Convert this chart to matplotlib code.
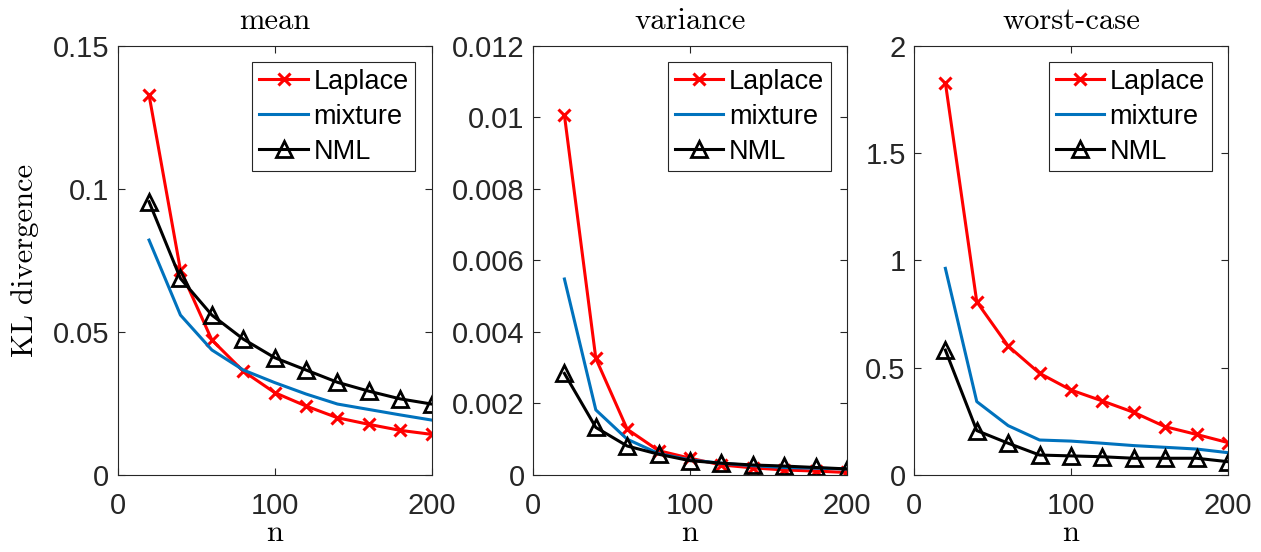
import matplotlib
matplotlib.use("Agg")
import matplotlib.pyplot as plt
from matplotlib.ticker import FuncFormatter

n = [20, 40, 60, 80, 100, 120, 140, 160, 180, 200]

# mean
mean_laplace = [0.1328, 0.0716, 0.0472, 0.0363, 0.0288, 0.0241, 0.0200, 0.0177, 0.0156, 0.0142]
mean_mixture = [0.0821, 0.0559, 0.0437, 0.0367, 0.0323, 0.0283, 0.0248, 0.0229, 0.0210, 0.0192]
mean_nml = [0.0955, 0.0687, 0.0559, 0.0475, 0.0410, 0.0367, 0.0324, 0.0293, 0.0266, 0.0248]

# variance
var_laplace = [0.01006, 0.00326, 0.00128, 0.00068, 0.00047, 0.00028, 0.00020, 0.00014, 0.00011, 0.00007]
var_mixture = [0.00548, 0.00182, 0.00100, 0.00060, 0.00042, 0.00033, 0.00026, 0.00021, 0.00019, 0.00017]
var_nml = [0.00284, 0.00133, 0.00081, 0.00058, 0.00040, 0.00033, 0.00028, 0.00025, 0.00021, 0.00017]

# worst-case
worst_laplace = [1.828, 0.807, 0.601, 0.474, 0.396, 0.345, 0.292, 0.225, 0.189, 0.151]
worst_mixture = [0.963, 0.342, 0.230, 0.163, 0.158, 0.148, 0.137, 0.129, 0.121, 0.104]
worst_nml = [0.582, 0.207, 0.148, 0.093, 0.089, 0.085, 0.078, 0.078, 0.078, 0.062]

titles = ["mean", "variance", "worst-case"]
ylims = [0.15, 0.012, 2]
yticks = [[0, 0.05, 0.1, 0.15],
          [0, 0.002, 0.004, 0.006, 0.008, 0.01, 0.012],
          [0, 0.5, 1, 1.5, 2]]
panels = [(mean_laplace, mean_mixture, mean_nml),
          (var_laplace, var_mixture, var_nml),
          (worst_laplace, worst_mixture, worst_nml)]

RED = (1, 0, 0)
BLUE = (0, 0.447, 0.741)
EDGE = (0.15, 0.15, 0.15)
SERIF = "cmr10"

plt.rcParams['font.family'] = ['Liberation Sans', 'DejaVu Sans']
plt.rcParams['axes.formatter.use_mathtext'] = False

fig = plt.figure(figsize=(12.61, 5.52), dpi=100)
lefts = [0.0933, 0.4227, 0.7248]
width = 0.249
bottom, top = 0.1395, 0.917

for i, (lap, mix, nml) in enumerate(panels):
    ax = fig.add_axes([lefts[i], bottom, width, top - bottom])
    ax.plot(n, lap, '-', color=RED, lw=2.2, marker='x', ms=8, mew=2.2, label='Laplace')
    ax.plot(n, mix, '-', color=BLUE, lw=2.2, label='mixture')
    ax.plot(n, nml, '-', color='black', lw=2.2, marker='^', ms=11, mew=2.0,
            mfc='none', mec='black', label='NML')
    ax.set_xlim(0, 200)
    ax.set_ylim(0, ylims[i])
    ax.set_xticks([0, 100, 200])
    ax.set_yticks(yticks[i])
    ax.yaxis.set_major_formatter(FuncFormatter(lambda v, p: '%g' % v))
    ax.tick_params(direction='in', top=True, right=True, length=5, width=0.8,
                   colors=EDGE, labelcolor='#262626', labelsize=21, pad=6)
    ax.tick_params(axis='x', pad=12)
    for s in ax.spines.values():
        s.set_color(EDGE)
        s.set_linewidth(0.8)
    ax.set_title(titles[i], fontfamily=SERIF, fontsize=22, pad=12)
    ax.set_xlabel('n', fontfamily=SERIF, fontsize=22, labelpad=0)
    if i == 0:
        ax.set_ylabel('KL divergence', fontfamily=SERIF, fontsize=22, labelpad=10)
    leg = ax.legend(loc='upper right', fontsize=19.5, handlelength=1.8, handletextpad=0.2,
                    labelspacing=0.33, borderpad=0.25, borderaxespad=0.6, fancybox=False,
                    framealpha=1, edgecolor=EDGE)
    leg.get_frame().set_linewidth(0.8)

fig.savefig('out.png', dpi=100)
